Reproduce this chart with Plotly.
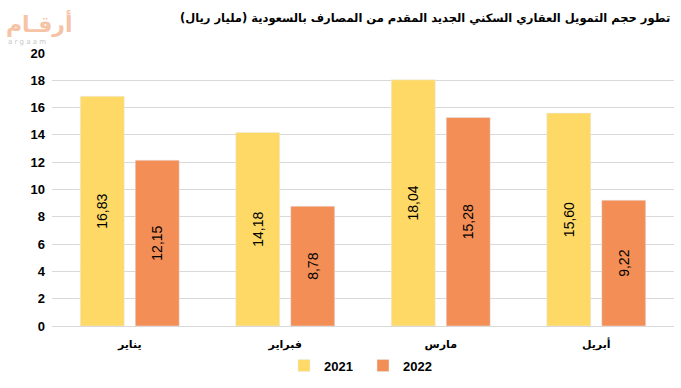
import plotly.graph_objects as go

categories = ["يناير", "فبراير", "مارس", "أبريل"]
values_2021 = [16.83, 14.18, 18.04, 15.60]
values_2022 = [12.15, 8.78, 15.28, 9.22]
y_ticks = list(range(0, 21, 2))
title_text = "تطور حجم التمويل العقاري السكني الجديد المقدم من المصارف بالسعودية (مليار ريال)"

def fmt(v):
    return f"{v:.2f}".replace(".", ",")

fig = go.Figure()
for name, vals, color in [("2021", values_2021, "#FFD966"), ("2022", values_2022, "#F28E56")]:
    fig.add_trace(go.Bar(
        x=categories, y=vals, name=name, marker_color=color,
        text=[fmt(v) for v in vals], textposition="inside",
        insidetextanchor="middle", textangle=-90,
        textfont=dict(family="Liberation Sans", size=14, color="black"),
        hoverinfo="skip",
    ))

fig.update_layout(
    width=681, height=388,
    margin=dict(l=52, r=7, t=53, b=62),
    paper_bgcolor="white", plot_bgcolor="white",
    barmode="group", bargap=0.293, bargroupgap=0.2,
    showlegend=True,
    legend=dict(orientation="h", x=0.5, xanchor="center", y=-0.20, yanchor="bottom",
                font=dict(family="Liberation Sans", size=13, color="black", weight="bold"),
                traceorder="normal", itemwidth=30, entrywidth=34, entrywidthmode="pixels"),
    xaxis=dict(tickfont=dict(family="DejaVu Sans", size=11, color="black", weight="bold"),
               showline=True, linecolor="#D9D9D9", ticks="", showgrid=False,
               ticklabelstandoff=8, automargin=False),
    yaxis=dict(range=[0, 20], tickvals=y_ticks,
               tickfont=dict(family="Liberation Sans", size=13, color="black", weight="bold"),
               showgrid=True, gridcolor="#D9D9D9", zeroline=False, ticks="",
               ticklabelstandoff=6, automargin=False),
)
fig.add_annotation(text=title_text, x=1.0, y=1.0, xref="paper", yref="paper",
                   xanchor="right", yanchor="middle", yshift=35, xshift=-2, showarrow=False,
                   font=dict(family="DejaVu Sans", size=11.5, color="black", weight="bold"))
fig.add_annotation(text="أرقـام", x=0.0, y=1.0, xref="paper", yref="paper",
                   xanchor="left", yanchor="bottom", yshift=14, xshift=-48, showarrow=False,
                   font=dict(family="DejaVu Sans", size=22, color="#F6C3A6", weight="bold"))
fig.add_annotation(text="a r g a a m", x=0.0, y=1.0, xref="paper", yref="paper",
                   xanchor="left", yanchor="bottom", yshift=5, xshift=-46, showarrow=False,
                   font=dict(family="DejaVu Sans", size=7, color="#C8C8C8"))
fig.write_html("out.html", config={"displayModeBar": False},
               post_script="document.body.style.margin='0';")
